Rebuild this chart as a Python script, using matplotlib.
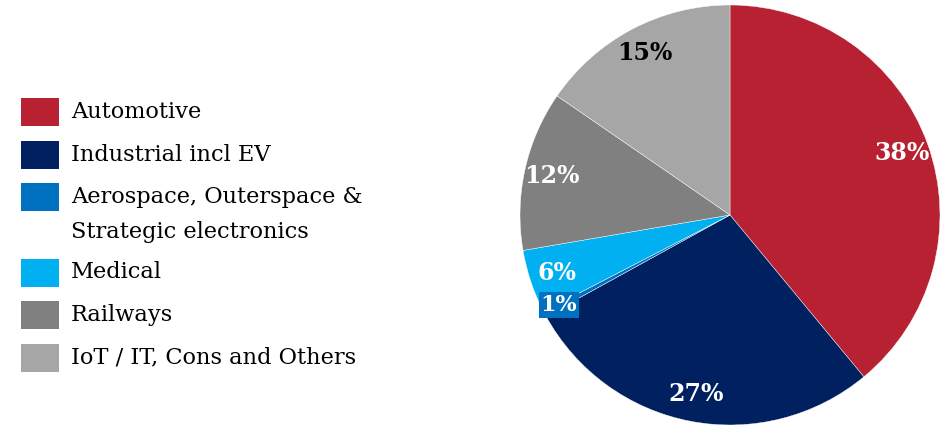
import matplotlib
matplotlib.use("Agg")
import matplotlib.pyplot as plt
from matplotlib.patches import Rectangle

# --- data ---
categories = [
    "Automotive",
    "Industrial incl EV",
    "Aerospace, Outerspace &\nStrategic electronics",
    "Medical",
    "Railways",
    "IoT / IT, Cons and Others",
]
# slice sizes; the printed labels are rounded
shares = [39.0, 28.0, 0.4, 4.9, 12.3, 15.4]
share_labels = ["38%", "27%", "1%", "6%", "12%", "15%"]
colors = ["#B72132", "#002060", "#0070C0", "#00B0F0", "#808080", "#A6A6A6"]
label_colors = ["white", "white", "white", "white", "white", "black"]

plt.rcParams["font.family"] = ["DejaVu Serif"]

W, H = 945, 426
fig = plt.figure(figsize=(W / 100, H / 100), dpi=100)

# pie: centre (730, 215) px, radius 210 px
cx, cy, r = 730, 215, 210
ax = fig.add_axes([(cx - r) / W, (H - cy - r) / H, 2 * r / W, 2 * r / H])
wedges, texts, autotexts = ax.pie(
    shares, colors=colors, startangle=90, counterclock=False,
    autopct="%.0f%%", pctdistance=0.87,
    wedgeprops=dict(edgecolor="white", linewidth=0.3),
    textprops=dict(fontsize=17, fontweight="bold"),
)
for t, c, lab in zip(autotexts, label_colors, share_labels):
    t.set_text(lab)
    t.set_color(c)

# the tiny slice gets a boxed label sitting over its wedge
small = autotexts[2]
small.set_position((-0.815, -0.43))
small.set_fontsize(16)
small.set_bbox(dict(facecolor=colors[2], edgecolor="none", pad=1.5))

ax.set_xlim(-1, 1)
ax.set_ylim(-1, 1)
ax.set_aspect("equal")

# --- legend drawn by hand so the swatch sits on the first text line ---
step, extra = 42.5, 33
y = 112
for name, col in zip(categories, colors):
    fig.patches.append(Rectangle((21 / W, 1 - (y + 14) / H), 38 / W, 28 / H,
                                 transform=fig.transFigure, facecolor=col,
                                 edgecolor="none"))
    lines = name.split("\n")
    fig.text(71 / W, 1 - y / H, lines[0], fontsize=16.2,
             va="center", ha="left", color="black")
    if len(lines) > 1:
        fig.text(71 / W, 1 - (y + 35) / H, lines[1], fontsize=16.2,
                 va="center", ha="left", color="black")
        y += extra
    y += step

fig.savefig("out.png", dpi=100)
